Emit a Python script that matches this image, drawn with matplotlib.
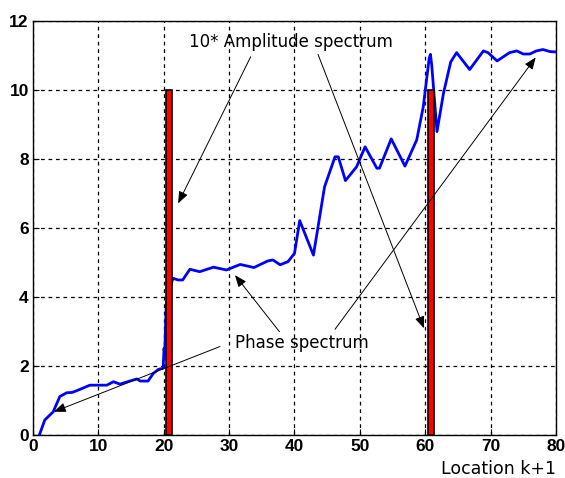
import matplotlib
matplotlib.use("Agg")
import matplotlib.pyplot as plt
import numpy as np

plt.rcParams["font.family"] = ["Liberation Sans", "DejaVu Sans"]

# phase spectrum
phase_x = [1.0, 1.8, 3.1, 4.1, 5.15, 6.0, 7.2, 8.7, 11.3, 12.3, 13.3, 14.8, 15.9,
           16.4, 17.6, 18.4, 19.2, 19.9, 20.05, 20.15, 20.25, 20.35, 20.6, 21.4,
           22.2, 22.9, 24.0, 25.5, 27.6, 29.6, 31.7, 33.8, 35.9, 36.7, 37.8, 39.0,
           40.0, 40.8, 42.9, 44.6, 46.2, 46.7, 47.8, 49.5, 50.8, 52.6, 53.0, 54.8,
           56.9, 58.7, 59.7, 60.6, 60.8, 61.0, 61.8, 62.8, 63.9, 64.8, 66.8, 68.9,
           69.6, 71.0, 72.9, 74.0, 75.0, 76.0, 77.0, 78.0, 79.1, 80.0]
phase_y = [0.0, 0.42, 0.66, 1.1, 1.21, 1.22, 1.31, 1.43, 1.43, 1.53, 1.46, 1.55, 1.61,
           1.55, 1.55, 1.77, 1.89, 1.92, 2.5, 2.3, 3.0, 3.6, 4.0, 4.53,
           4.48, 4.48, 4.79, 4.72, 4.85, 4.77, 4.93, 4.84, 5.03, 5.06, 4.92, 5.01,
           5.25, 6.2, 5.2, 7.18, 8.05, 8.05, 7.36, 7.76, 8.34, 7.72, 7.72, 8.57,
           7.78, 8.54, 9.5, 10.9, 11.02, 10.7, 8.78, 9.9, 10.8, 11.07, 10.58, 11.12,
           11.07, 10.83, 11.07, 11.12, 11.03, 11.03, 11.12, 11.16, 11.1, 11.09]

# 10 * amplitude spectrum
amp_x = [20.8, 60.85]
amp_y = [10, 10]

x_ticks = np.arange(0, 81, 10)
y_ticks = np.arange(0, 13, 2)


def main() -> None:
    fig = plt.figure(figsize=(5.65, 4.78), dpi=100)
    ax = fig.add_axes([0.0584, 0.091, 0.9256, 0.866])

    ax.plot(phase_x, phase_y, color="#0000ff", linewidth=2.0, zorder=3)
    ax.bar(amp_x, amp_y, width=1.0, color="#ff0000", edgecolor="black",
           linewidth=1.2, zorder=4)

    ax.set_xlim(0, 80)
    ax.set_ylim(0, 12)
    ax.set_xticks(x_ticks)
    ax.set_yticks(y_ticks)
    ax.grid(True, color="black", linestyle=(0, (3, 3)), linewidth=0.9)
    ax.set_axisbelow(True)
    ax.tick_params(direction="in", length=4, width=0.8, labelsize=12.5, pad=3)
    for lab in ax.get_xticklabels() + ax.get_yticklabels():
        lab.set_fontweight("bold")
    for sp in ax.spines.values():
        sp.set_linewidth(1.0)

    ax.text(1.0, -0.083, "Location k+1", transform=ax.transAxes,
            ha="right", va="center", fontsize=12.5, family="DejaVu Sans")

    arrow = dict(arrowstyle="-|>,head_length=0.55,head_width=0.22", color="black",
                 lw=0.7, mutation_scale=13, shrinkA=0, shrinkB=0)

    ax.text(39.45, 11.38, "10* Amplitude spectrum", ha="center", va="center",
            fontsize=12, family="DejaVu Sans", zorder=6)
    ax.annotate("", xy=(22.2, 6.7), xytext=(33.3, 10.95), arrowprops=arrow, zorder=6)
    ax.annotate("", xy=(59.8, 3.08), xytext=(43.6, 11.02), arrowprops=arrow, zorder=6)

    ax.text(41.1, 2.65, "Phase spectrum", ha="center", va="center",
            fontsize=12, family="DejaVu Sans", zorder=6)
    ax.annotate("", xy=(3.2, 0.66), xytext=(28.6, 2.55), arrowprops=arrow, zorder=6)
    ax.annotate("", xy=(30.9, 4.62), xytext=(37.7, 2.98), arrowprops=arrow, zorder=6)
    ax.annotate("", xy=(76.9, 10.93), xytext=(46.2, 3.05), arrowprops=arrow, zorder=6)

    fig.savefig("out.png", dpi=100, facecolor="white")
    plt.close(fig)


if __name__ == "__main__":
    main()
